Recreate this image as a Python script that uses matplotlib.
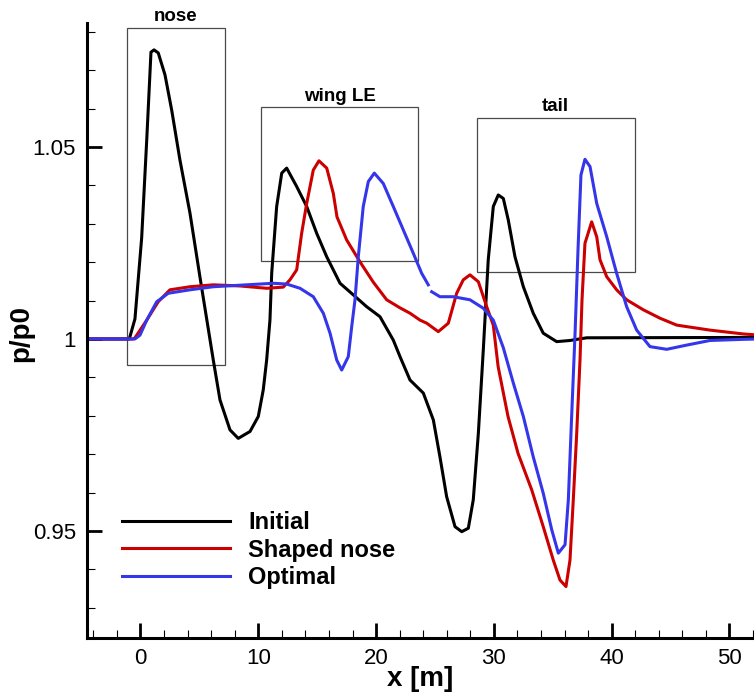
"""
Pressure signature p/p0 along x for the initial, shaped-nose and optimal
geometries, with boxes marking the nose, wing leading edge and tail zones.
"""

import numpy as np
import matplotlib
matplotlib.use('Agg')
import matplotlib.pyplot as plt
from matplotlib.patches import Rectangle
from matplotlib.ticker import MultipleLocator, FuncFormatter

# Valores
initial_x = [-4.5, -0.95, -0.47, 0.10, 0.53, 0.89, 1.15, 1.51, 2.08, 2.65,
             3.35, 4.20, 5.05, 6.18, 6.75, 7.60, 8.30, 9.30, 10.00, 10.42,
             10.71, 10.99, 11.14, 11.56, 11.99, 12.41, 13.26, 14.11, 14.96, 15.81,
             16.94, 18.06, 19.20, 20.33, 21.46, 22.03, 22.88, 24.01, 24.86, 25.42,
             25.99, 26.70, 27.27, 27.83, 28.25, 28.68, 29.10, 29.52, 29.95, 30.37,
             30.80, 31.22, 31.79, 32.50, 33.34, 34.19, 35.33, 36.46, 37.88, 52.5]
initial_p = [1.0, 1.0, 1.0052, 1.0263, 1.0518, 1.0747, 1.0753, 1.0745, 1.0688, 1.0596,
             1.0466, 1.0328, 1.0161, 0.9945, 0.9841, 0.9763, 0.9741, 0.9759, 0.9798, 0.9867,
             0.9945, 1.0049, 1.0172, 1.0345, 1.0432, 1.0445, 1.0397, 1.0345, 1.0275, 1.0214,
             1.0145, 1.0115, 1.0084, 1.0058, 0.9997, 0.9954, 0.9893, 0.9859, 0.9789, 0.9693,
             0.9589, 0.9511, 0.9498, 0.9507, 0.9581, 0.9754, 0.9971, 1.0206, 1.0345, 1.0375,
             1.0366, 1.0310, 1.0214, 1.0136, 1.0067, 1.0015, 0.9993, 0.9996, 1.0003, 1.0004]

shaped_x = [-4.5, -0.61, -0.47, 0.53, 1.51, 2.50, 4.20, 6.18, 8.45, 10.71,
            12.12, 12.69, 13.26, 13.68, 14.11, 14.67, 15.15, 15.81, 16.37, 16.68,
            17.50, 18.63, 19.76, 20.90, 22.03, 22.88, 23.73, 24.30, 25.28, 26.13,
            26.84, 27.40, 27.97, 28.68, 29.39, 29.95, 30.36, 31.20, 32.05, 33.21,
            34.19, 35.04, 35.61, 36.12, 36.46, 36.74, 37.03, 37.31, 37.48, 37.73,
            38.30, 38.73, 39.01, 39.58, 40.42, 41.27, 42.68, 44.10, 45.52, 48.34,
            51.17, 52.5]
shaped_p = [1.0, 1.0, 1.0003, 1.0049, 1.0097, 1.0128, 1.0136, 1.0141, 1.0138, 1.0132,
            1.0135, 1.0154, 1.0180, 1.0275, 1.0353, 1.0440, 1.0464, 1.0445, 1.0379, 1.0318,
            1.0258, 1.0201, 1.0148, 1.0102, 1.0081, 1.0067, 1.0049, 1.0041, 1.0019, 1.0041,
            1.0119, 1.0154, 1.0167, 1.0149, 1.0084, 1.0036, 0.9928, 0.9798, 0.9702, 0.9607,
            0.9511, 0.9424, 0.9372, 0.9355, 0.9424, 0.9581, 0.9754, 0.9945, 1.0102, 1.0249,
            1.0305, 1.0266, 1.0206, 1.0162, 1.0128, 1.0102, 1.0076, 1.0054, 1.0036, 1.0023,
            1.0013, 1.0010]

optimal_x = [-4.5, -0.47, -0.04, 0.53, 1.38, 2.36, 4.20, 6.18, 9.02, 11.27,
             12.41, 13.54, 14.67, 15.52, 16.09, 16.66, 17.08, 17.64, 17.93, 18.21,
             18.49, 18.91, 19.34, 19.85, 20.61, 21.46, 22.31, 23.16, 23.87, 24.43,
             24.57, 24.72, 25.42, 26.55, 27.97, 29.10, 29.95, 30.80, 31.65, 32.50,
             33.34, 34.19, 34.91, 35.47, 36.04, 36.32, 36.60, 36.89, 37.14, 37.39,
             37.73, 38.16, 38.73, 39.58, 40.42, 41.27, 42.12, 43.25, 44.67, 46.37,
             48.34, 51.17, 52.5]
optimal_p = [1.0, 1.0, 1.0010, 1.0049, 1.0097, 1.0119, 1.0128, 1.0136, 1.0141, 1.0145,
             1.0143, 1.0132, 1.0110, 1.0067, 1.0015, 0.9945, 0.9919, 0.9954, 1.0032, 1.0102,
             1.0214, 1.0345, 1.0410, 1.0432, 1.0405, 1.0345, 1.0284, 1.0223, 1.0171, 1.0141,
             np.nan, 1.0123, 1.0110, 1.0110, 1.0102, 1.0080, 1.0049, 0.9977, 0.9885, 0.9798,
             0.9693, 0.9598, 0.9503, 0.9442, 0.9464, 0.9581, 0.9798, 1.0015, 1.0232, 1.0427,
             1.0468, 1.0449, 1.0353, 1.0266, 1.0171, 1.0084, 1.0023, 0.9980, 0.9973, 0.9984,
             0.9996, 0.9999, 1.0]

series_labels = ['Initial', 'Shaped nose', 'Optimal']

# Zonas marcadas (x0, x1, y0, y1)
box_labels = ['nose', 'wing LE', 'tail']
box_x0 = [-1.15, 10.23, 28.54]
box_x1 = [7.17, 23.60, 41.95]
box_y0 = [0.9932, 1.0203, 1.0174]
box_y1 = [1.0810, 1.0603, 1.0575]


def draw_boxes(ax):
    """Draws the zone rectangles and their labels."""
    for lab, x0, x1, y0, y1 in zip(box_labels, box_x0, box_x1, box_y0, box_y1):
        ax.add_patch(Rectangle((x0, y0), x1 - x0, y1 - y0, fill=False,
                               edgecolor='#4a4a4a', linewidth=0.9, zorder=1))
        ax.annotate(lab, xy=((x0 + x1) / 2, y1), xytext=(0, 5),
                    textcoords='offset points', ha='center', va='baseline',
                    fontsize=13.5, fontweight='bold', annotation_clip=False)


def plot_signature(output_path='out.png'):
    plt.rcParams['font.family'] = ['Liberation Sans', 'DejaVu Sans']

    fig = plt.figure(figsize=(7.54, 6.96), dpi=100)
    ax = fig.add_axes([87 / 754, 1 - 638 / 696, (754 - 87) / 754, (638 - 23) / 696])

    ax.plot(initial_x, initial_p, color='black', lw=2.2, label=series_labels[0])
    ax.plot(shaped_x, shaped_p, color='#cc0000', lw=2.2, label=series_labels[1])
    ax.plot(optimal_x, optimal_p, color='#3535ea', lw=2.2, label=series_labels[2])

    draw_boxes(ax)

    ax.set_xlim(-4.54, 52.08)
    ax.set_ylim(0.9221, 1.0823)

    ax.xaxis.set_major_locator(MultipleLocator(10))
    ax.xaxis.set_minor_locator(MultipleLocator(2))
    ax.yaxis.set_major_locator(MultipleLocator(0.05))
    ax.yaxis.set_minor_locator(MultipleLocator(0.01))
    ax.yaxis.set_major_formatter(FuncFormatter(lambda v, _: f'{v:g}'))

    ax.tick_params(which='both', direction='in', top=False, right=False,
                   labelsize=16)
    ax.tick_params(which='major', length=10.5, width=2.0)
    ax.tick_params(which='minor', length=6, width=0.8)
    ax.tick_params(axis='y', pad=8)
    ax.tick_params(axis='x', pad=7)

    for side in ['top', 'right']:
        ax.spines[side].set_visible(False)
    for side in ['left', 'bottom']:
        ax.spines[side].set_linewidth(2.2)

    ax.set_xlabel('x [m]', fontsize=20, fontweight='bold', labelpad=-2)
    ax.set_ylabel('p/p0', fontsize=20, fontweight='bold')
    ax.yaxis.set_label_coords(-0.079, 0.495)

    ax.legend(loc='center left', bbox_to_anchor=(0.052, 0.143), frameon=False,
              prop={'size': 17, 'weight': 'bold'}, handlelength=4.6,
              handletextpad=0.75, labelspacing=0.2, borderpad=0,
              borderaxespad=0)

    fig.savefig(output_path, dpi=100)
    plt.close(fig)


plot_signature()
